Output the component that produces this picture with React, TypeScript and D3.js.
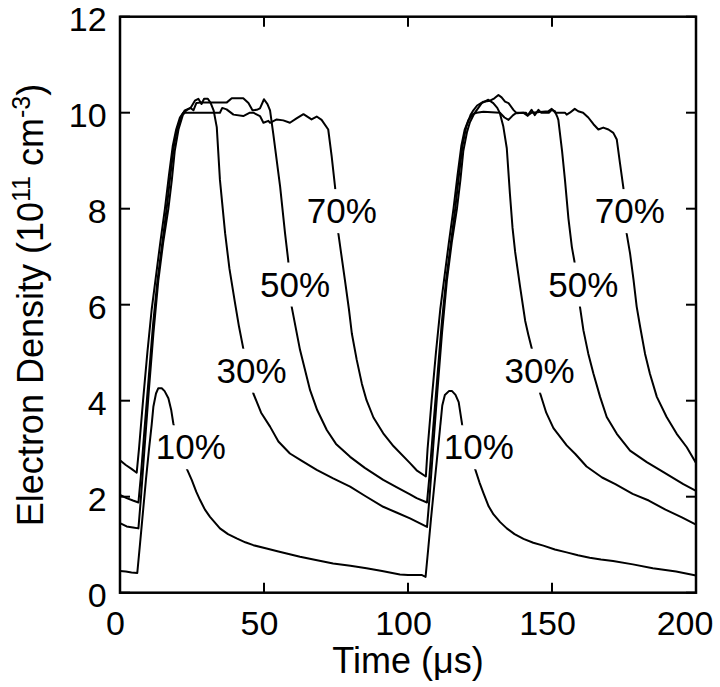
import React from "react";
import * as d3 from "d3";

type Pt = [number, number];

const xTicks = [0, 50, 100, 150, 200];
const yTicks = [0, 2, 4, 6, 8, 10, 12];

const d70: Pt[] = [
  [0, 2.76], [2, 2.66], [4, 2.58], [5.8, 2.5], [6.6, 3.0], [8, 4.0], [9.5, 5.0], [11, 5.9], [12.5, 6.6], [14, 7.3], [15.6, 8.0], [17, 8.7], [18.3, 9.3], [19.5, 9.65], [20.8, 9.9], [22, 10.0], [24, 10.0], [34.7, 10.0], [35.5, 10.1], [37, 10.07], [39.4, 9.96], [42.8, 9.93], [45.1, 10.0], [46.3, 10.0], [48.6, 9.93], [49.8, 9.79], [51.5, 9.83], [52.1, 9.79], [54.4, 9.86], [56.7, 9.84], [59, 9.79], [61.3, 9.88], [63.7, 9.97], [66.5, 9.86], [68.3, 9.92], [70, 9.85], [72.3, 9.65], [73.5, 9.09], [74.7, 8.44], [75.8, 7.49], [78.1, 6.51], [79.5, 5.9], [80.5, 5.4], [82.2, 4.85], [84, 4.35], [85.6, 4.01], [88, 3.65], [91.4, 3.32], [95, 3.05], [100.7, 2.7], [103, 2.55], [106.2, 2.42],
  [106.8, 3.0], [108.2, 4.0], [109.7, 5.0], [111.2, 5.9], [112.7, 6.6], [114.2, 7.3], [115.8, 8.0], [117.2, 8.7], [118.5, 9.3], [119.7, 9.65], [121, 9.85], [122.5, 9.97], [123.8, 10.0], [126.2, 10.02], [131.9, 10.0], [133.5, 9.9], [134.9, 9.85], [136.5, 9.95], [137.7, 10.0], [141, 10.0], [141.6, 9.94], [142.9, 10.0], [148.7, 10.03], [149.9, 10.08], [151.2, 10.0], [154.5, 10.0], [155.1, 9.96], [156.2, 10.0], [157.9, 10.08], [159.1, 10.03], [160.8, 10.0], [162.6, 9.9], [164.4, 9.76], [166.1, 9.65], [167.8, 9.69], [169.6, 9.65], [171.3, 9.58], [172.5, 9.44], [173.6, 8.95], [174.8, 8.43], [175.9, 7.49], [177.1, 7.07], [178.3, 6.52], [179.4, 5.96], [180.6, 5.54], [182.3, 4.98], [184, 4.56], [186.4, 4.08], [189.8, 3.66], [193.3, 3.31], [196.8, 3.03], [200, 2.7],
];

const d50: Pt[] = [
  [0, 2.04], [2.3, 1.97], [4.5, 1.92], [6.4, 1.88], [7.2, 2.4], [8.5, 3.4], [10, 4.5], [11.5, 5.6], [13, 6.5], [14.5, 7.2], [16.2, 8.0], [17.5, 8.7], [18.7, 9.3], [20, 9.7], [21.5, 9.95], [22.5, 10.05], [24.5, 10.1], [25.5, 10.05], [26.5, 10.2], [28, 10.21], [37, 10.21], [38.8, 10.3], [42.8, 10.3], [44.6, 10.2], [46, 10.05], [47.5, 10.06], [48.6, 10.09], [50, 10.28], [51.2, 10.18], [52.1, 10.05], [53.2, 9.57], [55.6, 8.46], [57.3, 7.49], [58.4, 6.93], [59.6, 5.96], [62.5, 5.06], [66, 4.22], [68.5, 3.8], [71.8, 3.39], [75, 3.1], [79.9, 2.83], [85, 2.6], [91.4, 2.35], [96, 2.2], [100.7, 2.05], [103, 1.97], [106.6, 1.88],
  [107.4, 2.4], [108.7, 3.4], [110.2, 4.5], [111.7, 5.6], [113.2, 6.5], [114.7, 7.2], [116.4, 8.0], [117.7, 8.7], [118.9, 9.3], [120.2, 9.7], [121.7, 9.95], [122.7, 10.05], [124, 10.15], [126.2, 10.23], [128.5, 10.25], [130, 10.3], [131.4, 10.37], [132.5, 10.32], [133.7, 10.23], [134.9, 10.2], [136.6, 10.06], [137.7, 9.99], [140, 10.0], [141.5, 9.94], [142.9, 10.06], [144, 9.95], [145.3, 10.06], [146.2, 10.0], [149, 10.0], [149.9, 10.06], [151, 10.03], [151.8, 9.92], [152.2, 9.85], [153.5, 9.2], [154.5, 8.6], [155.7, 7.8], [156.9, 7.2], [157.8, 6.9], [159.7, 5.96], [160.9, 5.47], [162.6, 4.98], [164.4, 4.56], [166.7, 4.08], [169, 3.66], [172.5, 3.31], [177.1, 2.96], [182.9, 2.72], [188.7, 2.51], [195.6, 2.26], [200, 2.12],
];

const d30: Pt[] = [
  [0, 1.45], [2.3, 1.38], [4.5, 1.36], [6.4, 1.34], [7.3, 2.0], [8.5, 3.0], [10, 4.2], [11.6, 5.4], [13.3, 6.5], [15, 7.3], [16.8, 8.0], [18, 8.6], [19, 9.2], [20.3, 9.65], [21.8, 9.95], [23, 10.05], [24.5, 10.1], [26, 10.25], [27.2, 10.29], [28.3, 10.18], [29.2, 10.29], [30.5, 10.29], [31.5, 10.2], [32.5, 10.05], [33.6, 9.7], [34.7, 8.6], [36.5, 7.49], [38, 6.75], [39.9, 6.05], [41.3, 5.55], [42.8, 5.09], [44.5, 4.6], [46.3, 4.15], [49, 3.75], [52.1, 3.46], [55, 3.15], [59, 2.9], [63, 2.75], [68.3, 2.56], [74, 2.38], [79.9, 2.21], [85, 2.02], [91.4, 1.79], [96, 1.67], [100.7, 1.55], [104, 1.45], [106.6, 1.37],
  [107.5, 2.0], [108.7, 3.0], [110.2, 4.2], [111.8, 5.4], [113.5, 6.5], [115.2, 7.3], [117, 8.0], [118.2, 8.6], [119.2, 9.2], [120.5, 9.6], [121.5, 9.8], [123, 9.98], [125.6, 10.2], [127.9, 10.27], [129.6, 10.2], [131, 10.1], [131.9, 9.99], [133.1, 9.71], [134.3, 9.26], [135.4, 8.3], [136.3, 7.6], [137.2, 7.1], [138.9, 6.38], [140.7, 5.66], [141.8, 5.37], [143, 5.08], [145.9, 4.15], [148, 3.75], [150.5, 3.43], [155.1, 3.07], [158.1, 2.89], [162, 2.63], [167.4, 2.4], [172, 2.26], [178, 2.06], [183.6, 1.92], [189.4, 1.73], [195.1, 1.57], [200, 1.42],
];

const d10: Pt[] = [
  [0, 0.45], [2, 0.44], [4, 0.42], [6, 0.41], [7, 1.05], [8, 1.7], [9, 2.35], [10, 2.95], [11, 3.5], [11.6, 3.88], [12.5, 4.15], [13.3, 4.26], [14.5, 4.26], [15.5, 4.2], [16.8, 4.05], [17.8, 3.8], [18.5, 3.53], [20, 3.15], [21.5, 2.85], [23.2, 2.58], [24.9, 2.35], [26.5, 2.1], [27.8, 1.93], [29.5, 1.73], [31.25, 1.58], [34.7, 1.34], [37.5, 1.22], [40.5, 1.13], [43.5, 1.05], [46.3, 0.99], [50.9, 0.92], [55, 0.86], [62.5, 0.75], [68, 0.68], [74, 0.61], [80, 0.56], [85.6, 0.51], [91, 0.45], [97.2, 0.38], [100, 0.37], [104.7, 0.37], [106.1, 0.33],
  [107, 0.9], [108, 1.55], [109, 2.15], [110, 2.75], [111, 3.35], [111.9, 3.9], [112.8, 4.12], [114.2, 4.2], [115.3, 4.2], [116.5, 4.12], [117.6, 3.97], [118.8, 3.5], [120, 3.12], [121.5, 2.82], [123.4, 2.56], [124.8, 2.3], [126.3, 2.06], [128, 1.8], [129.7, 1.63], [132, 1.47], [134.3, 1.34], [137, 1.22], [140.1, 1.12], [143.5, 1.04], [147, 0.98], [151, 0.9], [155.1, 0.84], [159, 0.78], [163.1, 0.73], [167, 0.69], [171.2, 0.66], [178.1, 0.59], [185, 0.51], [193.1, 0.44], [200, 0.36],
];

const seriesData: Pt[][] = [d10, d30, d50, d70];

const labelText = ["70%", "50%", "30%", "10%", "70%", "50%", "30%", "10%"];
const labelT = [77.0, 60.8, 45.7, 24.6, 177.0, 160.9, 145.7, 124.6];
const labelV = [7.7, 6.17, 4.375, 2.78, 7.7, 6.17, 4.375, 2.78];

const FONT = "'Liberation Sans', Arial, Helvetica, sans-serif";

export default function App() {
  const W = 720;
  const H = 687;
  const x = d3.scaleLinear().domain([0, 200]).range([120, 696]);
  const y = d3.scaleLinear().domain([0, 12]).range([592.7, 16.7]);
  const line = d3
    .line<Pt>()
    .x((d) => x(d[0]))
    .y((d) => y(d[1]));

  const left = x(0), right = x(200), top = y(12), bottom = y(0);
  const tickLen = 10;
  const fs = 34;

  const xLabelDx = (t: number) => (t === 200 ? -11 : -4.5);

  return (
    <svg
      width={W}
      height={H}
      viewBox={`0 0 ${W} ${H}`}
      style={{ position: "absolute", left: 0, top: 0, display: "block", background: "#fff" }}
      fontFamily={FONT}
    >
      <rect x={0} y={0} width={W} height={H} fill="#fff" />
      <g fill="none" stroke="#000" strokeWidth={2} strokeLinejoin="round">
        {seriesData.map((s, i) => (
          <path key={i} d={line(s) || ""} />
        ))}
      </g>
      {labelText.map((txt, i) => {
        const cx = x(labelT[i]);
        const by = y(labelV[i]);
        return (
          <g key={i}>
            <rect x={cx - 37} y={by - 34} width={74} height={44} fill="#fff" />
            <text x={cx} y={by} textAnchor="middle" fontSize={35} fill="#000">
              {txt}
            </text>
          </g>
        );
      })}
      <g stroke="#000" strokeWidth={2}>
        {xTicks.map((t) => (
          <g key={"xt" + t}>
            <line x1={x(t)} x2={x(t)} y1={bottom} y2={bottom - tickLen} />
            <line x1={x(t)} x2={x(t)} y1={top} y2={top + tickLen} />
          </g>
        ))}
        {yTicks.map((v) => (
          <g key={"yt" + v}>
            <line x1={left} x2={left + tickLen} y1={y(v)} y2={y(v)} />
            <line x1={right} x2={right - tickLen} y1={y(v)} y2={y(v)} />
          </g>
        ))}
      </g>
      <rect
        x={left}
        y={top}
        width={right - left}
        height={bottom - top}
        fill="none"
        stroke="#000"
        strokeWidth={2.5}
      />
      {xTicks.map((t) => (
        <text
          key={"xl" + t}
          x={x(t) + xLabelDx(t)}
          y={bottom + 42.3}
          textAnchor="middle"
          fontSize={fs}
          fill="#000"
        >
          {t}
        </text>
      ))}
      {yTicks.map((v) => (
        <text
          key={"yl" + v}
          x={106.7}
          y={y(v) + 14.3}
          textAnchor="end"
          fontSize={fs}
          fill="#000"
        >
          {v}
        </text>
      ))}
      <text x={(left + right) / 2} y={673} textAnchor="middle" fontSize={36} fill="#000">
        Time (μs)
      </text>
      <text
        transform={`translate(43,305) rotate(-90)`}
        textAnchor="middle"
        fontSize={36}
        fill="#000"
      >
        Electron Density (10
        <tspan fontSize={25} dy={-13}>11</tspan>
        <tspan dy={13}> cm</tspan>
        <tspan fontSize={25} dy={-13}>-3</tspan>
        <tspan dy={13}>)</tspan>
      </text>
    </svg>
  );
}
